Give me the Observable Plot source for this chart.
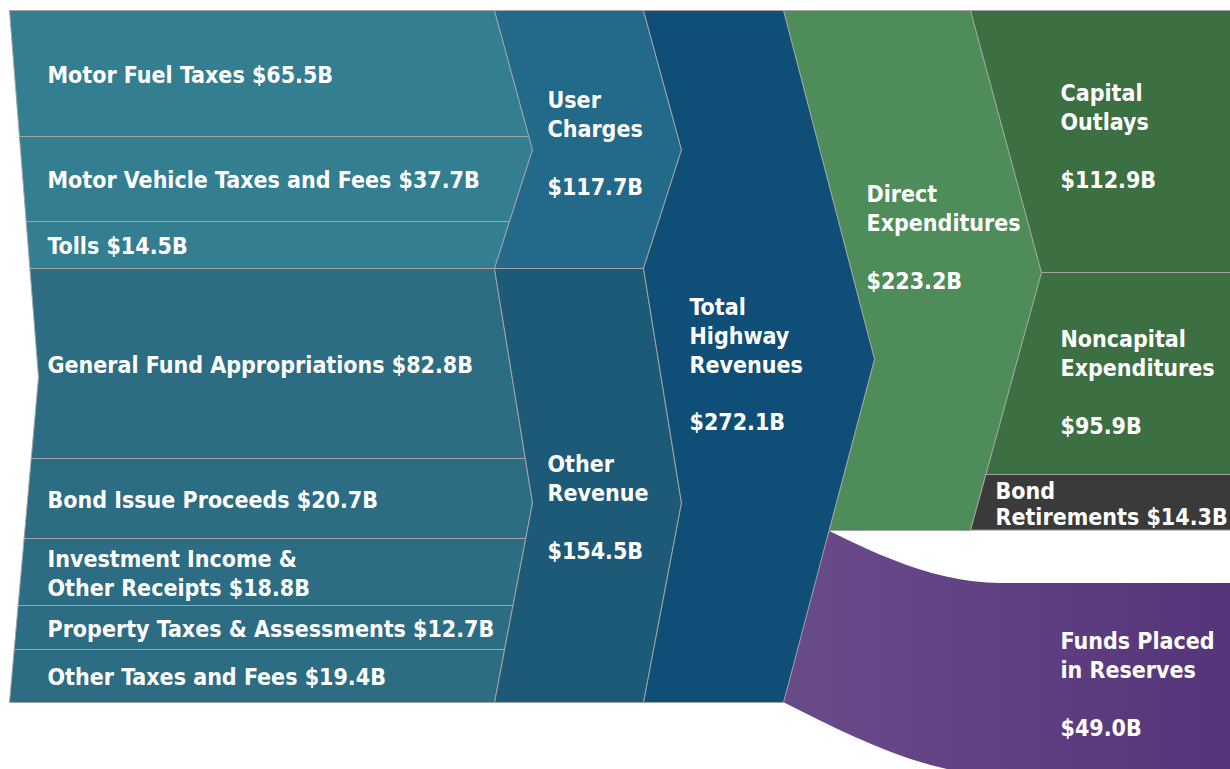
<!DOCTYPE html>
<html>
<head>
<meta charset="utf-8">
<script src="https://cdn.jsdelivr.net/npm/d3@7"></script>
<script src="https://cdn.jsdelivr.net/npm/@observablehq/plot@0.6"></script>
<style>
html, body { margin: 0; padding: 0; background: #ffffff; }
#chart { position: relative; width: 1230px; height: 769px; overflow: hidden; }
#chart svg { position: absolute; left: 0; top: 0; }
</style>
</head>
<body>
<div id="chart"></div>
<script>
// ---------------- DATA (billions of dollars) ----------------
const revenueSources = ["Motor Fuel Taxes", "Motor Vehicle Taxes and Fees", "Tolls",
  "General Fund Appropriations", "Bond Issue Proceeds", "Investment Income &\nOther Receipts",
  "Property Taxes & Assessments", "Other Taxes and Fees"];
const revenueValues = [65.5, 37.7, 14.5, 82.8, 20.7, 18.8, 12.7, 19.4];
const revenueGroupIndex = [0, 0, 0, 1, 1, 1, 1, 1];
const groupNames = ["User\nCharges", "Other\nRevenue"];
const groupValues = [117.7, 154.5];
const totalName = "Total\nHighway\nRevenues";
const totalValue = 272.1;
const useNames = ["Direct\nExpenditures", "Funds Placed\nin Reserves"];
const useValues = [223.2, 49.0];
const directNames = ["Capital\nOutlays", "Noncapital\nExpenditures", "Bond\nRetirements"];
const directValues = [112.9, 95.9, 14.3];

const fmt = v => `$${v.toFixed(1)}B`;

// ---------------- LAYOUT ----------------
const W = 1230, H = 769;
const revPx = [10, 136, 221, 268, 458, 538, 605, 649, 702]; // stacked band boundaries, revenue side
const usePx = [10, 272, 474, 530, 702];                     // stacked band boundaries, spending side
const X = {
  left: 9, notch: 38, midL: 494, midLApex: 532, midR: 643, midRApex: 681,
  totR: 783, totRApex: 874, dirR: 970, dirRApex: 1041, right: W,
  itemText: 47, groupText: 547, totalText: 689, directText: 866, subText: 1060, bondText: 995,
  reserveBend: 1000
};
const FONT = '"DejaVu Sans Condensed", "DejaVu Sans", sans-serif';
const FS = 23;
const LH = 1.26;
const C = {
  userItems: "#347e91", otherItems: "#2d6d83", user: "#22698a", other: "#1c5a78",
  total: "#0f4f77", direct: "#4e8c5a", sub: "#3c7043", bond: "#3a3a3a",
  edge: "#a3a3a3", purpleA: "#6a4b8a", purpleB: "#553579"
};

// ---------------- SCALES ----------------
const revDomain = [0, ...d3.cumsum(revenueValues)];
const yLeft = {type: "linear", domain: revDomain, range: revPx, axis: null};
const dirCum = [0, ...d3.cumsum(directValues)];
const useDomain = [0, dirCum[1], dirCum[2], useValues[0], useValues[0] + useValues[1]];
const yRight = {type: "linear", domain: useDomain, range: usePx, axis: null};
function makeScale(opts) {
  const s = Plot.scale({y: opts});
  const inv = d3.scaleLinear(opts.domain, opts.range).invert; // same piecewise mapping, reversed
  return {apply: v => s.apply(v), invert: p => inv(p)};
}
const yL = makeScale(yLeft);
const yR = makeScale(yRight);

// chevron edge helpers (work in screen space, convert back through the scale)
function chev(p0, p1, xb, xa, frac) { return {p0, p1, xb, xa, pa: p0 + frac * (p1 - p0)}; }
function edgeX(c, p) {
  if (p <= c.pa) return c.xb + (c.xa - c.xb) * (p - c.p0) / (c.pa - c.p0 || 1);
  return c.xb + (c.xa - c.xb) * (c.p1 - p) / (c.p1 - c.pa || 1);
}
function edgePoints(chevs, q0, q1) {
  const ps = new Set([q0, q1]);
  for (const c of chevs) for (const p of [c.p0, c.pa, c.p1]) if (p > q0 && p < q1) ps.add(p);
  return [...ps].sort((a, b) => a - b).map(p => {
    const c = chevs.find(c => p >= c.p0 - 1e-6 && p <= c.p1 + 1e-6) || chevs[0];
    return {x: edgeX(c, p), p};
  });
}
function polygon(leftChevs, rightChevs, v0, v1, sc) {
  const q0 = sc.apply(v0), q1 = sc.apply(v1);
  const L = edgePoints(leftChevs, q0, q1);
  const R = edgePoints(rightChevs, q0, q1).reverse();
  const pts = [...L, ...R, L[0]];
  return pts.map(d => ({x: d.x, y: sc.invert(d.p)}));
}
const block = (pts, fill) => Plot.line(pts, {x: "x", y: "y", fill, stroke: C.edge, strokeWidth: 1, strokeLinejoin: "miter"});

// ---------------- LEFT (revenue) PLOT ----------------
const P = v => yL.apply(v);
const notch = chev(P(0), P(totalValue), X.left, X.notch, 0.53);
const groupCum = [0, ...d3.cumsum(groupValues)];
const gA = groupValues.map((_, g) => chev(P(groupCum[g]), P(groupCum[g + 1]), X.midL, X.midLApex, 0.54));
const gB = groupValues.map((_, g) => chev(P(groupCum[g]), P(groupCum[g + 1]), X.midR, X.midRApex, 0.54));
const chevTotal = chev(P(0), P(totalValue), X.totR, X.totRApex, 0.504);

const leftMarks = [];
revenueValues.forEach((v, i) => {
  const g = revenueGroupIndex[i];
  leftMarks.push(block(polygon([notch], [gA[g]], revDomain[i], revDomain[i + 1], yL), g === 0 ? C.userItems : C.otherItems));
});
groupValues.forEach((v, g) => {
  leftMarks.push(block(polygon([gA[g]], [gB[g]], groupCum[g], Math.min(groupCum[g + 1], totalValue), yL), g === 0 ? C.user : C.other));
});
leftMarks.push(block(polygon(gB, [chevTotal], 0, totalValue, yL), C.total));

const textOpts = {x: "x", y: "y", text: "label", textAnchor: "start", lineAnchor: "middle",
  fill: "white", fontWeight: "bold", fontSize: FS, fontFamily: FONT, lineHeight: LH};
const itemLabels = revenueSources.map((s, i) => ({
  x: X.itemText, y: (revDomain[i] + revDomain[i + 1]) / 2, label: `${s} ${fmt(revenueValues[i])}`
}));
leftMarks.push(Plot.text(itemLabels, {...textOpts, dy: 0}));
const groupDy = [-8, 3];
groupNames.forEach((s, g) => {
  leftMarks.push(Plot.text([{x: X.groupText, y: yL.invert(gA[g].pa), label: `${s}\n\n${fmt(groupValues[g])}`}], {...textOpts, dy: groupDy[g]}));
});
leftMarks.push(Plot.text([{x: X.totalText, y: yL.invert(chevTotal.pa), label: `${totalName}\n\n${fmt(totalValue)}`}], {...textOpts, dy: 4}));

// ---------------- RIGHT (spending) PLOT ----------------
const R = v => yR.apply(v);
const chevTotal2 = chev(R(0), R(useDomain[4]), X.totR, X.totRApex, 0.504);
const chevDirect = chev(R(0), R(useValues[0]), X.dirR, X.dirRApex, 0.504);
const straight = chev(-100, H + 100, X.right, X.right, 0.5);

const rightMarks = [];
rightMarks.push(() => {
  const defs = document.createElementNS("http://www.w3.org/2000/svg", "defs");
  defs.innerHTML = `<linearGradient id="reserveGrad" gradientUnits="userSpaceOnUse" x1="${X.totR}" y1="0" x2="${W}" y2="0">
    <stop offset="0" stop-color="${C.purpleA}"/><stop offset="1" stop-color="${C.purpleB}"/></linearGradient>`;
  return defs;
});
// reserves flow band (left end slides under the total-revenue block)
const resTop = R(useValues[0]), resBot = R(useDomain[4]);
const reserveRows = [
  {x: X.totR, y1: yR.invert(resTop - 23), y2: yR.invert(resBot)},
  {x: X.reserveBend, y1: yR.invert(resTop + 53), y2: yR.invert(resBot + 73)},
  {x: X.right, y1: yR.invert(resTop + 53), y2: yR.invert(resBot + 73)}
];
rightMarks.push(Plot.areaY(reserveRows, {x: "x", y1: "y1", y2: "y2", fill: "url(#reserveGrad)", curve: "monotone-x"}));
rightMarks.push(block(polygon([chevTotal2], [chevDirect], 0, useValues[0], yR), C.direct));
directValues.forEach((v, i) => {
  rightMarks.push(block(polygon([chevDirect], [straight], dirCum[i], dirCum[i + 1], yR), i === 2 ? C.bond : C.sub));
});
rightMarks.push(Plot.text([{x: X.directText, y: useValues[0] / 2, label: `${useNames[0]}\n\n${fmt(useValues[0])}`}], {...textOpts, dy: -33}));
const subDy = [-6, 8];
[0, 1].forEach(i => {
  rightMarks.push(Plot.text([{x: X.subText, y: (dirCum[i] + dirCum[i + 1]) / 2, label: `${directNames[i]}\n\n${fmt(directValues[i])}`}], {...textOpts, dy: subDy[i]}));
});
rightMarks.push(Plot.text([{x: X.bondText, y: (dirCum[2] + dirCum[3]) / 2, label: `${directNames[2]} ${fmt(directValues[2])}`}], {...textOpts, dy: 1, lineHeight: 1.13}));
rightMarks.push(Plot.text([{x: X.subText, y: yR.invert((resTop + 53 + resBot + 73) / 2), label: `${useNames[1]}\n\n${fmt(useValues[1])}`}], {...textOpts, dy: 4}));

const common = {
  width: W, height: H, margin: 0,
  x: {type: "linear", domain: [0, W], range: [0, W], axis: null},
  style: {background: "transparent", fontStretch: "condensed", overflow: "hidden"}
};
const rightPlot = Plot.plot({...common, y: yRight, marks: rightMarks});
const leftPlot = Plot.plot({...common, y: yLeft, marks: leftMarks});
const chart = document.getElementById("chart");
chart.appendChild(rightPlot);
chart.appendChild(leftPlot);
</script>
</body>
</html>
